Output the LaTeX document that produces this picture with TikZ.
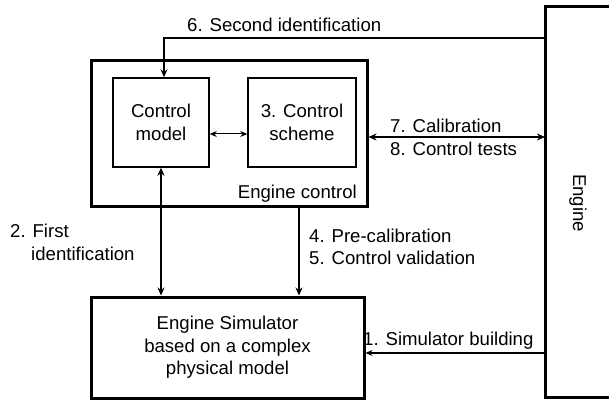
\documentclass[tikz,border=0pt]{standalone}
\usepackage{fontspec}
\setmainfont{Liberation Sans}
\usetikzlibrary{arrows.meta}
\begin{document}
\begin{tikzpicture}[x=1pt,y=-1pt,
  thickbox/.style={draw,line width=3pt},
  thinbox/.style={draw,line width=1.5pt},
  lbl/.style={font=\fontsize{18.6}{22.5}\selectfont,inner sep=0pt},
  arr/.style={line width=2.4pt,-{Stealth[length=8pt,width=7pt]}},
  darr/.style={line width=2.4pt,{Stealth[length=8pt,width=7pt]}-{Stealth[length=8pt,width=7pt]}},
  tarr/.style={line width=1pt,{Stealth[length=7pt,width=6pt]}-{Stealth[length=7pt,width=6pt]}}]
\useasboundingbox (0,0) rectangle (609,403);
% Engine
\draw[line width=3pt] (620,7) -- (545,7) -- (545,397) -- (620,397);
\coordinate (engL6) at (545,38);
\coordinate (engL7) at (545,137);
\coordinate (engL1) at (545,353);
\node[lbl,rotate=-90] (eng) at (578,203) {Engine};
% Engine control
\node[thickbox,minimum width=276pt,minimum height=145pt,inner sep=0pt] (ec) at (229,133.5) {};
\node[lbl,anchor=base east] (eclbl) at (357,198) {Engine control};
\node[thinbox,minimum width=96pt,minimum height=89pt,inner sep=0pt,align=center,font=\fontsize{18.6}{22.5}\selectfont] (cm) at (161,122.5) {Control\\model};
\node[thinbox,minimum width=108pt,minimum height=89pt,inner sep=0pt,align=center,font=\fontsize{18.6}{22.5}\selectfont] (cs) at (302,122.5) {3. Control\\scheme};
% Simulator
\node[thickbox,minimum width=273pt,minimum height=101pt,inner sep=0pt,align=center,font=\fontsize{18.6}{22.5}\selectfont] (sim) at (227.5,347.5) {Engine Simulator\\based on a complex\\physical model};
% connectors
\draw[arr] (engL6) -- (164,38) -- (cm.north -| 164,0);
\node[lbl,anchor=base west] (l6) at (187,32) {6. Second identification};
\draw[tarr] (cm.east |- 0,134) -- (cs.west |- 0,134);
\draw[darr] (ec.east |- 0,137) -- (engL7);
\node[lbl,anchor=base west] (l7) at (390,133) {7. Calibration};
\node[lbl,anchor=base west] (l8) at (390,156) {8. Control tests};
\draw[darr] (cm.south -| 161,0) -- (sim.north -| 161,0);
\node[lbl,anchor=base west] (l2) at (10,237) {2. First};
\node[lbl,anchor=base west] (l2b) at (31,260) {identification};
\draw[arr] (ec.south -| 299,0) -- (sim.north -| 299,0);
\node[lbl,anchor=base west] (l4) at (309,242) {4. Pre-calibration};
\node[lbl,anchor=base west] (l5) at (309,264) {5. Control validation};
\draw[line width=1.8pt,-{Stealth[length=7pt,width=6pt]}] (engL1) -- (sim.east |- 0,353);
\node[lbl,anchor=base west] (l1) at (363,345) {1. Simulator building};
\end{tikzpicture}
\end{document}
